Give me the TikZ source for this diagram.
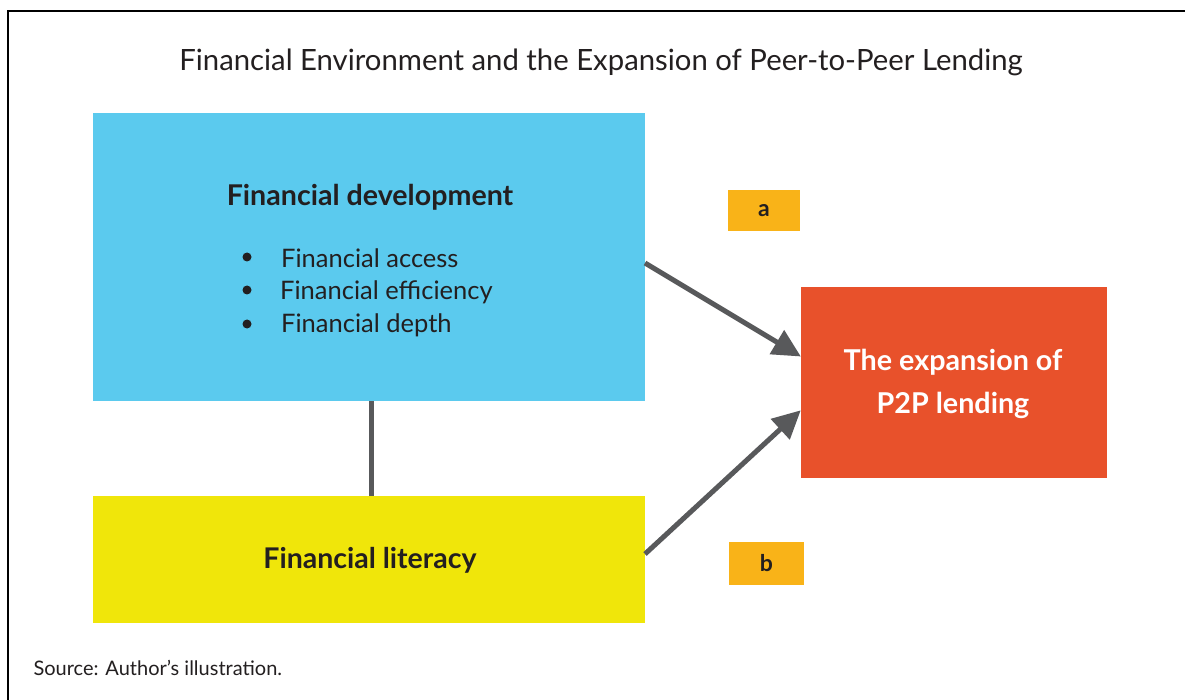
\documentclass[tikz,border=0pt]{standalone}
\usepackage{fontspec}
\setmainfont{Lato}
\usetikzlibrary{arrows.meta}
\definecolor{txt}{HTML}{231F20}
\definecolor{cblue}{HTML}{5BCAEE}
\definecolor{cyellow}{HTML}{F0E60A}
\definecolor{cred}{HTML}{E8512B}
\definecolor{corange}{HTML}{F9B318}
\definecolor{cgray}{HTML}{58595B}
\tikzset{
  box/.style={draw=none, inner sep=0pt, outer sep=0pt},
  lab/.style={fill=corange, inner sep=0pt, outer sep=0pt, text=txt, font=\fontsize{23}{26}\selectfont\bfseries},
  bul/.style={text=txt, font=\fontsize{25.5}{28}\selectfont, anchor=west, inner sep=0pt},
  conn/.style={draw=cgray, line width=5pt},
  arr/.style={conn, -{Triangle[length=28pt,width=27pt]}, shorten >=-1pt},
}
\begin{document}
\begin{tikzpicture}[x=1pt,y=-1pt]
\useasboundingbox (0,0) rectangle (1185,700);
\fill[white] (0,0) rectangle (1185,700);
% frame
\draw[line width=2.5pt, black] (8,700) -- (8,11) -- (1185,11);
% title
\node[text=txt, font=\fontsize{29.3}{32}\selectfont] (title) at (601,62) {Financial Environment and the Expansion of Peer-to-Peer Lending};
% boxes
\node[box, fill=cblue, minimum width=552pt, minimum height=288pt, anchor=north west] (dev) at (93,113) {};
\node[box, fill=cyellow, minimum width=552pt, minimum height=127pt, anchor=north west] (lit) at (93,496) {};
\node[box, fill=cred, minimum width=306pt, minimum height=191pt, anchor=north west] (p2p) at (801,287) {};
% texts
\node[text=txt, font=\fontsize{28.6}{32}\selectfont\bfseries] (devt) at (370,197) {Financial development};
\node[bul] (b1) at (281,258) {Financial access};
\node[bul] (b2) at (280,292) {Financial efficiency};
\node[bul] (b3) at (281,325) {Financial depth};
\fill[txt] (247,257) circle (4.5pt);
\fill[txt] (247,290) circle (4.5pt);
\fill[txt] (247,324) circle (4.5pt);
\node[text=txt, font=\fontsize{28.5}{32}\selectfont\bfseries] (litt) at (370,560) {Financial literacy};
\node[text=white, font=\fontsize{28.7}{32}\selectfont\bfseries, align=center] (p2pt) at (953,384) {The expansion of\\[11pt]P2P lending};
% labels
\node[lab, minimum width=72pt, minimum height=41pt, anchor=north west] (la) at (728,190) {a};
\node[lab, minimum width=75pt, minimum height=43pt, anchor=north west] (lb) at (729,542) {b};
% connectors
\coordinate (a1) at (645,263);
\coordinate (a2) at (800,356);
\coordinate (b1s) at (645,554);
\coordinate (b2e) at (800,411);
\draw[conn] (dev.south -| 371,0) -- (lit.north -| 371,0);
\draw[arr] (a1) -- (a2);
\draw[arr] (b1s) -- (b2e);
% source
\node[text=txt, font=\fontsize{20}{23}\selectfont, anchor=west] (src) at (30,668) {Source: Author’s illustration.};
\end{tikzpicture}
\end{document}
